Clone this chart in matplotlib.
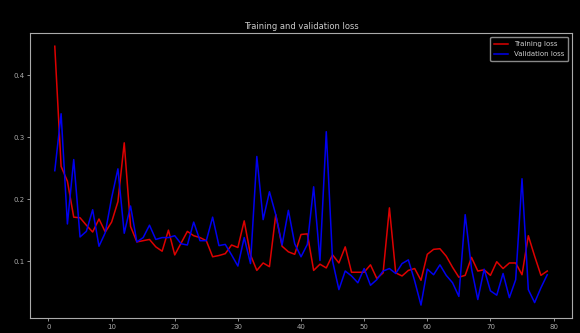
import matplotlib
matplotlib.use("Agg")
import matplotlib.pyplot as plt

# per-epoch loss values
epochs = list(range(1, 80))
train_loss = [0.447, 0.253, 0.229, 0.171, 0.170, 0.158, 0.147, 0.168, 0.147, 0.163,
              0.196, 0.291, 0.156, 0.131, 0.133, 0.135, 0.123, 0.116, 0.150, 0.110,
              0.129, 0.148, 0.141, 0.138, 0.133, 0.107, 0.109, 0.112, 0.126, 0.122,
              0.165, 0.110, 0.085, 0.097, 0.091, 0.175, 0.124, 0.115, 0.111, 0.143,
              0.144, 0.085, 0.095, 0.089, 0.110, 0.097, 0.123, 0.082, 0.082, 0.082,
              0.094, 0.072, 0.081, 0.186, 0.081, 0.076, 0.085, 0.088, 0.069, 0.111,
              0.119, 0.120, 0.108, 0.090, 0.074, 0.077, 0.106, 0.084, 0.086, 0.077,
              0.099, 0.088, 0.097, 0.097, 0.078, 0.141, 0.108, 0.077, 0.084]
val_loss = [0.246, 0.338, 0.160, 0.264, 0.139, 0.148, 0.183, 0.124, 0.146, 0.202,
            0.249, 0.145, 0.189, 0.131, 0.138, 0.158, 0.135, 0.138, 0.138, 0.141,
            0.128, 0.126, 0.163, 0.133, 0.133, 0.171, 0.125, 0.127, 0.110, 0.092,
            0.138, 0.096, 0.269, 0.167, 0.212, 0.175, 0.126, 0.182, 0.128, 0.107,
            0.127, 0.220, 0.101, 0.309, 0.100, 0.054, 0.084, 0.076, 0.065, 0.088,
            0.061, 0.070, 0.084, 0.088, 0.080, 0.096, 0.102, 0.068, 0.029, 0.087,
            0.078, 0.094, 0.077, 0.065, 0.043, 0.175, 0.088, 0.038, 0.087, 0.052,
            0.045, 0.080, 0.041, 0.070, 0.233, 0.054, 0.033, 0.057, 0.078]

plt.style.use("dark_background")
fig = plt.figure(figsize=(5.8, 3.33), dpi=100)
ax = fig.add_axes([0.052, 0.045, 0.934, 0.855])
ax.set_facecolor("black")

ax.plot(epochs, train_loss, color="#dd0000", linewidth=1.1, label="Training loss")
ax.plot(epochs, val_loss, color="#0000ee", linewidth=1.1, label="Validation loss")
ax.set_title("Training and validation loss", fontsize=6, color="#cccccc", pad=3)

for s in ax.spines.values():
    s.set_color("#aaaaaa")
    s.set_linewidth(0.8)
ax.tick_params(labelsize=5, colors="#aaaaaa", length=2, width=0.6, pad=2)
ax.set_yticks([0.1, 0.2, 0.3, 0.4])
ax.set_xticks([0, 10, 20, 30, 40, 50, 60, 70, 80])

leg = ax.legend(loc="upper right", fontsize=5, handlelength=2.0, borderpad=0.6,
                labelspacing=0.6, framealpha=1.0, facecolor="black", fancybox=True)
leg.get_frame().set_edgecolor("#888888")
for t in leg.get_texts():
    t.set_color("#cccccc")

fig.savefig("out.png", dpi=100, facecolor="black")
